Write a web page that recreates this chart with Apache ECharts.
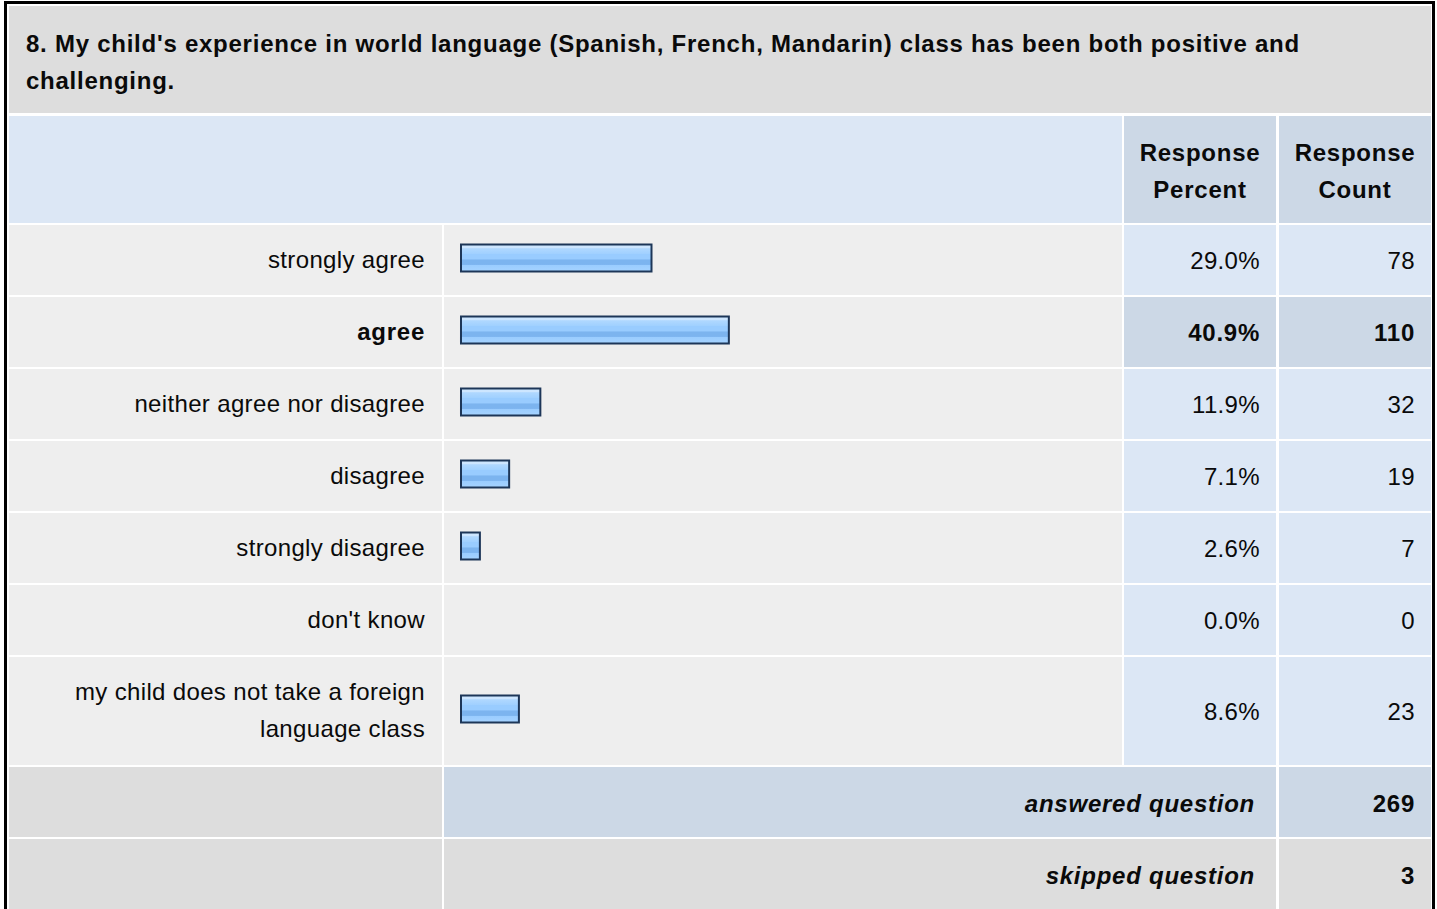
<!DOCTYPE html>
<html>
<head>
<meta charset="utf-8">
<script src="https://cdn.jsdelivr.net/npm/echarts@6/dist/echarts.min.js"></script>
<style>
html,body{margin:0;padding:0;background:#fff;}
#chart{width:1437px;height:909px;}
#chart svg text{letter-spacing:0.35px;}
#chart svg text[style*="bold"]{letter-spacing:0.75px;}
</style>
</head>
<body>
<div id="chart"></div>
<script>
// ---- data ----
const titleText = "8. My child's experience in world language (Spanish, French, Mandarin) class has been both positive and\nchallenging.";
const categories = ['strongly agree', 'agree', 'neither agree nor disagree', 'disagree', 'strongly disagree', "don't know", 'my child does not take a foreign\nlanguage class'];
const percents = [29.0, 40.9, 11.9, 7.1, 2.6, 0.0, 8.6];
const counts = [78, 110, 32, 19, 7, 0, 23];
const highlightIndex = 1;
const headerLabels = ['Response\nPercent', 'Response\nCount'];
const footerLabels = ['answered question', 'skipped question'];
const footerValues = [269, 3];

// ---- layout / style ----
const FONT = '"Liberation Sans", Arial, Helvetica, sans-serif';
const FS = 24;
const TXT = '#0a0a0a';
const C_TITLE = '#dddddd', C_HEAD = '#dce7f5', C_HEAD2 = '#ccd8e6', C_ROW = '#eeeeee', C_CELL = '#dce7f5';
const COL = {labelX: 9, labelW: 433, barX: 444, barW: 678, pctX: 1124, pctW: 152, cntX: 1279, cntW: 152};
const rowTops = [225, 297, 369, 441, 513, 585, 657];
const rowHs = [70, 70, 70, 70, 70, 70, 108];

const graphics = [];
function rect(x, y, w, h, fill) {
  graphics.push({type: 'rect', silent: true, z: -10, shape: {x, y, width: w, height: h}, style: {fill}});
}
function text(str, x, y, align, opts) {
  graphics.push({type: 'text', silent: true, z: 5, x, y: y + 0.5, style: Object.assign({
    text: str, fill: TXT, font: `${FS}px ${FONT}`, align: align, verticalAlign: 'middle', lineHeight: 37
  }, opts || {})});
}
// title
rect(9, 6, 1422, 107, C_TITLE);
text(titleText, 26, 61.5, 'left', {font: `bold ${FS}px ${FONT}`});
// header
rect(COL.labelX, 116, COL.pctX - 2 - COL.labelX, 107, C_HEAD);
rect(COL.pctX, 116, COL.pctW, 107, C_HEAD2);
rect(COL.cntX, 116, COL.cntW, 107, C_HEAD2);
text(headerLabels[0], COL.pctX + COL.pctW / 2, 170.5, 'center', {font: `bold ${FS}px ${FONT}`});
text(headerLabels[1], COL.cntX + COL.cntW / 2, 170.5, 'center', {font: `bold ${FS}px ${FONT}`});
// body rows
categories.forEach((c, i) => {
  const t = rowTops[i], h = rowHs[i], cy = t + h / 2;
  const hi = i === highlightIndex;
  rect(COL.labelX, t, COL.labelW, h, C_ROW);
  rect(COL.barX, t, COL.barW, h, C_ROW);
  rect(COL.pctX, t, COL.pctW, h, hi ? C_HEAD2 : C_CELL);
  rect(COL.cntX, t, COL.cntW, h, hi ? C_HEAD2 : C_CELL);
  const f = hi ? `bold ${FS}px ${FONT}` : `${FS}px ${FONT}`;
  text(percents[i].toFixed(1) + '%', 1260, cy, 'right', {font: f});
  text(String(counts[i]), 1415, cy, 'right', {font: f});
});
// footer rows
[767, 839].forEach((t, k) => {
  const mid = k === 0 ? C_HEAD2 : C_TITLE;
  rect(COL.labelX, t, COL.labelW, 70, C_TITLE);
  rect(COL.barX, t, COL.cntX - 3 - COL.barX, 70, mid);
  rect(COL.cntX, t, COL.cntW, 70, mid);
  text(footerLabels[k], 1255, t + 36, 'right', {font: `italic bold ${FS}px ${FONT}`});
  text(String(footerValues[k]), 1415, t + 36, 'right', {font: `bold ${FS}px ${FONT}`});
});
// outer border
graphics.push({type: 'rect', silent: true, z: 20, shape: {x: 5.5, y: 2.5, width: 1428, height: 940}, style: {fill: 'none', stroke: '#000', lineWidth: 3}});

const barGradient = {
  type: 'linear', x: 0, y: 0, x2: 0, y2: 1,
  colorStops: [
    {offset: 0, color: '#cde6ff'}, {offset: 0.14, color: '#cde6ff'},
    {offset: 0.15, color: '#b0d8ff'}, {offset: 0.35, color: '#a0d0ff'},
    {offset: 0.36, color: '#99ccff'}, {offset: 0.55, color: '#99ccff'},
    {offset: 0.56, color: '#7cb4ef'}, {offset: 0.74, color: '#7cb4ef'},
    {offset: 0.75, color: '#99ccff'}, {offset: 1, color: '#a6d3ff'}
  ]
};
const BAR_H = 27;
function renderBar(params, api) {
  const v = api.value(0);
  if (!v) return null;
  const idx = api.value(1);
  const s = api.coord([0, idx]);
  const e = api.coord([v, idx]);
  return {
    type: 'rect',
    shape: {x: s[0] - 1, y: Math.round(s[1] - BAR_H / 2) - 0.5, width: e[0] - s[0] + 2, height: BAR_H},
    style: {fill: barGradient, stroke: '#1d3658', lineWidth: 2}
  };
}
function catLabel(idxOffset) {
  return function (val, idx) {
    const i = idx + idxOffset;
    return i === highlightIndex ? '{b|' + val + '}' : val;
  };
}
const yAxisBase = (data, offset, gi) => ({
  type: 'category', gridIndex: gi, inverse: true, data: data,
  axisLine: {show: false}, axisTick: {show: false}, splitLine: {show: false},
  axisLabel: {
    margin: 37, color: TXT, fontSize: FS, fontFamily: FONT, lineHeight: 37, align: 'right',
    padding: [1, 0, 0, 0],
    formatter: catLabel(offset),
    rich: {b: {fontWeight: 'bold', fontSize: FS, fontFamily: FONT, color: TXT}}
  }
});
const xAxisBase = gi => ({type: 'value', gridIndex: gi, min: 0, max: 100, show: false});
const seriesBase = (gi, vals) => ({
  type: 'custom', xAxisIndex: gi, yAxisIndex: gi, silent: true,
  encode: {x: 0, y: 1},
  data: vals.map((v, i) => [v, i]),
  renderItem: renderBar
});

const chart = echarts.init(document.getElementById('chart'), null, {renderer: 'svg'});
chart.setOption({
  animation: false,
  backgroundColor: '#ffffff',
  grid: [
    {left: 462, top: 222.5, width: 650, height: 432},
    {left: 462, top: 654.5, width: 650, height: 110}
  ],
  xAxis: [xAxisBase(0), xAxisBase(1)],
  yAxis: [yAxisBase(categories.slice(0, 6), 0, 0), yAxisBase(categories.slice(6), 6, 1)],
  series: [seriesBase(0, percents.slice(0, 6)), seriesBase(1, percents.slice(6))],
  graphic: {elements: graphics}
});
</script>
</body>
</html>
